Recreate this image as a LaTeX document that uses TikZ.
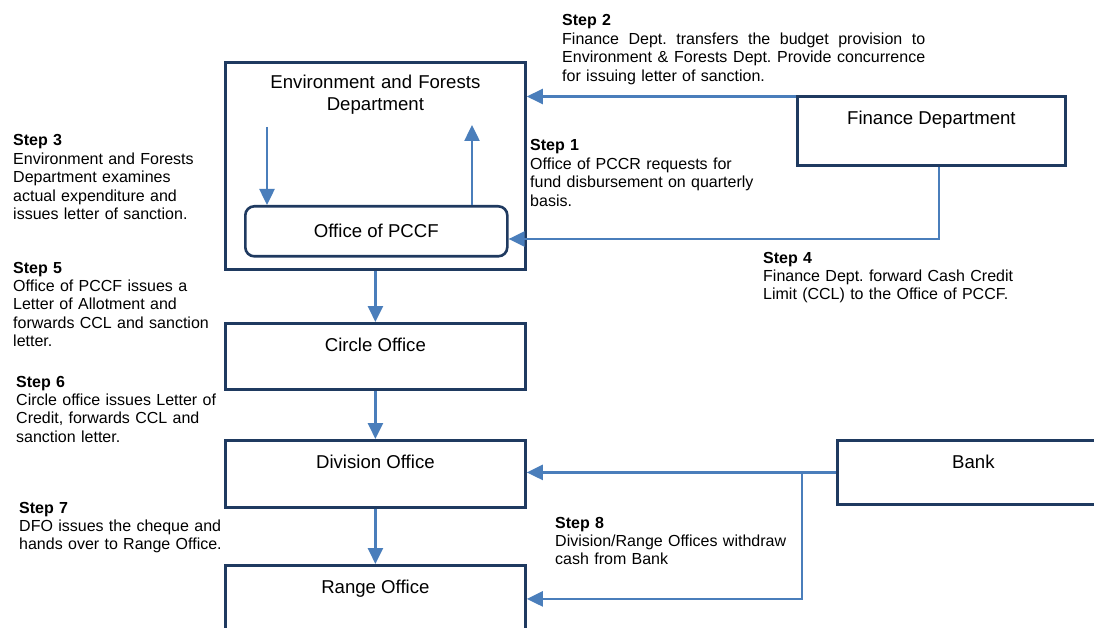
\documentclass[tikz,border=0pt]{standalone}
\usepackage{fontspec}
\setmainfont{Liberation Sans}
\usetikzlibrary{arrows.meta}

\definecolor{boxnavy}{HTML}{1F3A60}
\definecolor{flowblue}{HTML}{4A7EBB}

\newcommand\bxfont{\fontsize{18.6}{21.4}\selectfont}
\newcommand\stfont{\fontsize{16}{18.4}\selectfont}
\frenchspacing

\begin{document}
\begin{tikzpicture}[x=1pt,y=-1pt,
  orgbox/.style={draw=boxnavy, line width=2.8pt, fill=white, inner sep=0pt,
    font=\bxfont, text height=28pt, anchor=north west},
  pccfbox/.style={draw=boxnavy, line width=2.6pt, fill=white, inner sep=0pt,
    rounded corners=9pt, font=\bxfont, anchor=north west},
  boxtitle/.style={inner sep=0pt, font=\bxfont, align=center, anchor=base},
  stepnote/.style={inner sep=0pt, font=\stfont, align=left, text width=#1, anchor=base west},
  stepnote/.default=300pt,
  flow/.style={draw=flowblue, line width=2.5pt, -{Triangle[length=16pt,width=15pt]}}
]
\useasboundingbox (0,0) rectangle (1094,628);
\clip (0,0) rectangle (1094,628);

% organisation boxes
\node[orgbox, minimum width=300pt, minimum height=207pt, text height=0pt] (env) at (224,61) {};
\node[boxtitle, text width=300pt] (envT) at ([yshift=-28pt]env.north) {Environment and Forests\\Department};
\node[pccfbox, minimum width=262pt, minimum height=50pt] (pccf) at (244,205) {Office of PCCF};
\node[orgbox, minimum width=268pt, text depth=41pt] (fin) at (796,95) {Finance Department};
\node[orgbox, minimum width=300pt, text depth=38pt] (circle) at (224,322) {Circle Office};
\node[orgbox, minimum width=300pt, text depth=39pt] (div) at (224,439) {Division Office};
\node[orgbox, minimum width=300pt, text depth=39pt] (range) at (224,564) {Range Office};
\node[orgbox, minimum width=272pt, text depth=36pt] (bank) at (836,439) {Bank};

% step descriptions (step 2 is set justified)
\node[stepnote=363pt] (st2) at (562,26) {\textbf{Step 2}\\
  \makebox[363pt][l]{Finance\hfill Dept.\hfill transfers\hfill the\hfill budget\hfill provision\hfill to}\\
  \makebox[363pt][l]{Environment\hfill \&\hfill Forests\hfill Dept.\hfill Provide\hfill concurrence}\\
  for issuing letter of sanction.};
\node[stepnote] (st1) at (530,151) {\textbf{Step 1}\\Office of PCCR requests for\\fund disbursement on quarterly\\basis.};
\node[stepnote] (st3) at (13,146) {\textbf{Step 3}\\Environment and Forests\\Department examines\\actual expenditure and\\issues letter of sanction.};
\node[stepnote] (st4) at (763,263) {\textbf{Step 4}\\Finance Dept. forward Cash Credit\\Limit (CCL) to the Office of PCCF.};
\node[stepnote] (st5) at (13,273) {\textbf{Step 5}\\Office of PCCF issues a\\Letter of Allotment and\\forwards CCL and sanction\\letter.};
\node[stepnote] (st6) at (16,387) {\textbf{Step 6}\\Circle office issues Letter of\\Credit, forwards CCL and\\sanction letter.};
\node[stepnote] (st7) at (19,513) {\textbf{Step 7}\\DFO issues the cheque and\\hands over to Range Office.};
\node[stepnote] (st8) at (555,528) {\textbf{Step 8}\\Division/Range Offices withdraw\\cash from Bank};

% connectors
\coordinate (dn) at (267,127);
\coordinate (up) at (472,125);
\draw[flow] (dn) -- (dn |- pccf.north);
\draw[flow] (up |- pccf.north) -- (up);

\coordinate (s2) at ([yshift=-1.5pt]fin.north west);
\draw[flow] (s2) -- (s2 -| env.east);

\coordinate (s4) at (939,239);
\draw[flow] (s4 |- fin.south) -- (s4) -- (s4 -| pccf.east);

\draw[flow] (env.south) -- (circle.north);
\draw[flow] (circle.south) -- (div.north);
\draw[flow] (div.south) -- (range.north);

\coordinate (s8) at ([xshift=-34pt]bank.west);
\draw[flow] (bank.west) -- (bank.west -| div.east);
\draw[flow] (s8) -- (s8 |- range.east) -- (range.east);
\end{tikzpicture}
\end{document}
